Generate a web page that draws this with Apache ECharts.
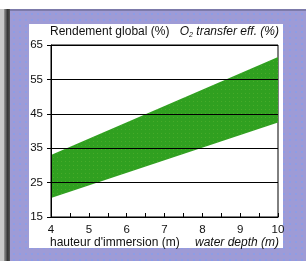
<!DOCTYPE html>
<html><head><meta charset="utf-8">
<script src="https://cdn.jsdelivr.net/npm/echarts@6/dist/echarts.min.js"></script>
<style>html,body{margin:0;padding:0;background:#fff;overflow:hidden}#c{width:306px;height:261px}</style>
</head><body><div id="c"></div>
<script>
// ---- data ----
const depth = [4, 10];             // water depth (m)
const lowerEff = [20.5, 42.5];     // lower bound of band (%)
const upperEff = [33, 61.5];       // upper bound of band (%)
const yTickValues = [15, 25, 35, 45, 55, 65];
const xTickValues = [4, 5, 6, 7, 8, 9, 10];

// dotted background pattern
function makePattern(base, dot, size) {
  const c = document.createElement('canvas');
  c.width = size; c.height = size;
  const g = c.getContext('2d');
  g.fillStyle = base; g.fillRect(0, 0, size, size);
  g.fillStyle = dot; g.fillRect(1, 1, 2, 2);
  return c;
}
const bgPat = makePattern('#9e9bd6', '#8d9de6', 6);
const greenPat = (function () {
  const c = document.createElement('canvas');
  c.width = 4; c.height = 4;
  const g = c.getContext('2d');
  g.fillStyle = '#30a020'; g.fillRect(0, 0, 4, 4);
  g.fillStyle = '#48ab2a'; g.fillRect(1, 1, 1, 1);
  return c;
})();

const FONT = "'Liberation Sans', Arial, sans-serif";
const bandData = depth.map((d, i) => [d, lowerEff[i], upperEff[i]]);

const chart = echarts.init(document.getElementById('c'), null, {renderer: 'canvas'});
chart.setOption({
  backgroundColor: '#fff',
  animation: false,
  graphic: [
    {type: 'rect', z: -10, silent: true, shape: {x: 0, y: 9, width: 4, height: 260}, style: {fill: '#c8c8c8'}},
    {type: 'rect', z: -10, silent: true, shape: {x: 4, y: 9, width: 6, height: 260},
      style: {fill: new echarts.graphic.LinearGradient(0, 0, 1, 0, [{offset: 0, color: '#9a9a9a'}, {offset: 0.6, color: '#333'}, {offset: 1, color: '#555'}])}},
    {type: 'rect', z: -10, silent: true, shape: {x: 10, y: 9, width: 296, height: 260},
      style: {fill: {image: bgPat, repeat: 'repeat'}}},
    {type: 'rect', z: -9, silent: true, shape: {x: 10, y: 9, width: 296, height: 2}, style: {fill: 'rgba(60,60,90,0.35)'}},
    {type: 'rect', z: -8, silent: true, shape: {x: 29, y: 24, width: 254, height: 224}, style: {fill: '#fff'}},
    {type: 'text', z: 10, left: 50, top: 26, style: {text: 'Rendement global (%)', font: '12px ' + FONT, fill: '#111'}},
    {type: 'text', z: 10, right: 27, top: 26, style: {
      text: '{a|O}{s|2}{a| transfer eff. (%)}',
      rich: {
        a: {font: 'italic 12px ' + FONT, fill: '#111'},
        s: {font: 'italic 7px ' + FONT, fill: '#111', padding: [6, 0, 0, 0]}
      }}},
    {type: 'text', z: 10, left: 50, top: 237, style: {text: "hauteur d'immersion (m)", font: '12px ' + FONT, fill: '#111'}},
    {type: 'text', z: 10, right: 27, top: 237, style: {text: 'water depth (m)', font: 'italic 12px ' + FONT, fill: '#111'}}
  ],
  grid: {left: 51, right: 28, top: 45, bottom: 44, show: true, borderColor: '#000', borderWidth: 1, backgroundColor: 'transparent'},
  xAxis: {
    type: 'value', min: 4, max: 10, interval: 0.5, z: 5,
    axisLine: {lineStyle: {color: '#000', width: 1}},
    axisTick: {show: true, inside: true, length: 4, lineStyle: {color: '#000'}},
    axisLabel: {customValues: xTickValues, color: '#111', fontFamily: FONT, fontSize: 11.5, margin: 7},
    splitLine: {show: false}
  },
  yAxis: {
    type: 'value', min: 15, max: 65, z: 5,
    axisLine: {show: true, lineStyle: {color: '#000', width: 1}},
    axisTick: {show: true, inside: false, length: 4, customValues: yTickValues, lineStyle: {color: '#000'}},
    axisLabel: {customValues: yTickValues, color: '#111', fontFamily: FONT, fontSize: 11.5, margin: 8},
    splitLine: {show: true, lineStyle: {color: '#000', width: 1}}
  },
  series: [{
    type: 'custom', z: 2, clip: true,
    data: bandData,
    encode: {x: 0, y: [1, 2]},
    renderItem: function (params, api) {
      if (params.dataIndex !== 0) return null;
      const top = bandData.map(p => api.coord([p[0], p[2]]));
      const bot = bandData.map(p => api.coord([p[0], p[1]])).reverse();
      return {
        type: 'polygon',
        shape: {points: top.concat(bot)},
        style: {fill: {image: greenPat, repeat: 'repeat'}, stroke: null}
      };
    }
  }]
});
</script></body></html>
